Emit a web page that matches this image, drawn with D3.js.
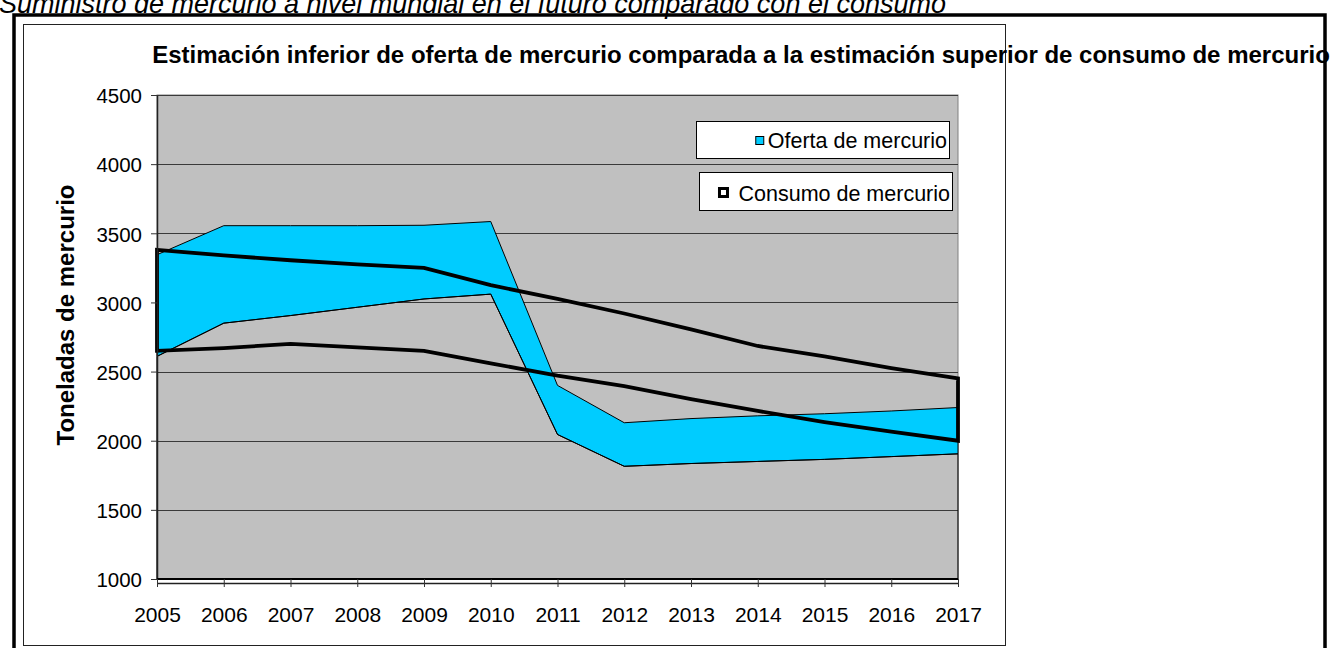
<!DOCTYPE html>
<html>
<head>
<meta charset="utf-8">
<script src="https://cdn.jsdelivr.net/npm/d3@7"></script>
<style>
  html, body { margin: 0; padding: 0; background: #fff; overflow: hidden; }
  svg { display: block; font-family: "Liberation Sans", Arial, sans-serif; }
</style>
</head>
<body>
<div id="chart"></div>
<script>
// Oferta vs consumo de mercurio, 2005-2017 (toneladas)
const years = ['2005', '2006', '2007', '2008', '2009', '2010', '2011', '2012', '2013', '2014', '2015', '2016', '2017'];
const supplyLow = [2610, 2850, 2905, 2965, 3025, 3060, 2045, 1815, 1835, 1850, 1865, 1885, 1905];
const supplyHigh = [3345, 3555, 3555, 3555, 3558, 3585, 2400, 2130, 2160, 2180, 2195, 2215, 2240];
const consumoHigh = [3380, 3340, 3305, 3275, 3250, 3125, 3025, 2920, 2805, 2685, 2610, 2525, 2450];
const consumoLow = [2650, 2670, 2700, 2675, 2650, 2560, 2470, 2395, 2300, 2215, 2135, 2065, 2000];
const yTicks = [1000, 1500, 2000, 2500, 3000, 3500, 4000, 4500];
const legendLabels = ['Oferta de mercurio', 'Consumo de mercurio'];

const width = 1333, height = 648;
const plot = { left: 157, right: 958, top: 95, bottom: 579 };

const svg = d3.select('#chart').append('svg')
  .attr('width', width)
  .attr('height', height);

// caption above the frame (its top is cut off in the original too)
svg.append('text')
  .attr('x', -1)
  .attr('y', 13)
  .attr('font-size', '27px')
  .attr('font-style', 'italic')
  .text('Suministro de mercurio a nivel mundial en el futuro comparado con el consumo');

// outer thick frame
svg.append('rect')
  .attr('x', 14).attr('y', 15)
  .attr('width', 1311).attr('height', 660)
  .attr('fill', 'none')
  .attr('stroke', '#000')
  .attr('stroke-width', 3.5);

// chart area frame
svg.append('rect')
  .attr('x', 23.5).attr('y', 24.5)
  .attr('width', 982).attr('height', 621)
  .attr('fill', '#fff')
  .attr('stroke', '#222')
  .attr('stroke-width', 1);

const x = d3.scalePoint().domain(years).range([plot.left, plot.right]);
const y = d3.scaleLinear().domain([1000, 4500]).range([plot.bottom, plot.top]);

// plot background
svg.append('rect')
  .attr('x', plot.left).attr('y', plot.top)
  .attr('width', plot.right - plot.left)
  .attr('height', plot.bottom - plot.top)
  .attr('fill', '#c0c0c0')
  .attr('stroke', '#808080')
  .attr('stroke-width', 1);

// gridlines
svg.append('g')
  .selectAll('line')
  .data(yTicks.slice(1))
  .join('line')
  .attr('x1', plot.left).attr('x2', plot.right)
  .attr('y1', d => Math.round(y(d)) + 0.5)
  .attr('y2', d => Math.round(y(d)) + 0.5)
  .attr('stroke', '#3a3a3a')
  .attr('stroke-width', 1);

const idx = d3.range(years.length);

// supply band
const supplyArea = d3.area()
  .x(i => x(years[i]))
  .y0(i => y(supplyLow[i]))
  .y1(i => y(supplyHigh[i]));

svg.append('path')
  .datum(idx)
  .attr('d', supplyArea)
  .attr('fill', '#00ccff')
  .attr('stroke', '#000')
  .attr('stroke-width', 1);

// base (transparent) stacked series below the band
const baseArea = d3.area()
  .x(i => x(years[i]))
  .y0(() => y(1000))
  .y1(i => y(supplyLow[i]));

svg.append('path')
  .datum(idx)
  .attr('d', baseArea)
  .attr('fill', 'none')
  .attr('stroke', '#000')
  .attr('stroke-width', 1);

// consumption range outline
const consumoArea = d3.area()
  .x(i => x(years[i]))
  .y0(i => y(consumoLow[i]))
  .y1(i => y(consumoHigh[i]));

svg.append('path')
  .datum(idx)
  .attr('d', consumoArea)
  .attr('fill', 'none')
  .attr('stroke', '#000')
  .attr('stroke-width', 3.8)
  .attr('stroke-linejoin', 'miter');

// y axis
const yAxis = svg.append('g')
  .attr('transform', `translate(${plot.left},0)`)
  .call(d3.axisLeft(y).tickValues(yTicks).tickFormat(d3.format('d'))
    .tickSize(6).tickPadding(9).tickSizeOuter(0));
yAxis.select('.domain').attr('stroke', '#222').attr('stroke-width', 1.5);
yAxis.selectAll('.tick line').attr('stroke', '#333');
yAxis.selectAll('.tick text')
  .attr('font-size', '20.5px')
  .attr('font-family', '"Liberation Sans", Arial, sans-serif')
  .attr('fill', '#000')
  .attr('dy', '0.38em');

// x axis (double baseline like the original)
svg.append('line')
  .attr('x1', plot.left).attr('x2', plot.right)
  .attr('y1', plot.bottom).attr('y2', plot.bottom)
  .attr('stroke', '#000').attr('stroke-width', 2);

const xAxis = svg.append('g')
  .attr('transform', `translate(0,${plot.bottom + 4})`)
  .call(d3.axisBottom(x).tickSize(4).tickPadding(20).tickSizeOuter(0));
xAxis.select('.domain').attr('stroke', '#222').attr('stroke-width', 1.5);
xAxis.selectAll('.tick line').attr('stroke', '#333').attr('y1', -4);
xAxis.selectAll('.tick text')
  .attr('font-size', '21px')
  .attr('font-family', '"Liberation Sans", Arial, sans-serif')
  .attr('fill', '#000');

// axis title
svg.append('text')
  .attr('transform', 'translate(74,315) rotate(-90)')
  .attr('text-anchor', 'middle')
  .attr('font-size', '24px')
  .attr('font-weight', 'bold')
  .text('Toneladas de mercurio');

// chart title
svg.append('text')
  .attr('x', 741)
  .attr('y', 63)
  .attr('text-anchor', 'middle')
  .attr('font-size', '24px')
  .attr('font-weight', 'bold')
  .text('Estimación inferior de oferta de mercurio comparada a la estimación superior de consumo de mercurio');

// legend: two separate boxes, text right-aligned inside each
const legendBoxes = [
  { x: 696, y: 121, w: 253, h: 37, ty: 148, gap: 4 },
  { x: 699, y: 172, w: 253, h: 38, ty: 201, gap: 11 }
];

legendBoxes.forEach((b, i) => {
  const g = svg.append('g');
  g.append('rect')
    .attr('x', b.x + 0.5).attr('y', b.y + 0.5)
    .attr('width', b.w).attr('height', b.h)
    .attr('fill', '#fff')
    .attr('stroke', '#000')
    .attr('stroke-width', 1);
  const label = g.append('text')
    .attr('x', b.x + b.w - 2)
    .attr('y', b.ty)
    .attr('text-anchor', 'end')
    .attr('font-size', '21.5px')
    .text(legendLabels[i]);
  const tx = b.x + b.w - 2 - label.node().getComputedTextLength();
  if (i === 0) {
    g.append('rect')
      .attr('x', tx - b.gap - 8).attr('y', b.ty - 11.5)
      .attr('width', 8).attr('height', 8)
      .attr('fill', '#00ccff')
      .attr('stroke', '#000')
      .attr('stroke-width', 1);
  } else {
    g.append('rect')
      .attr('x', tx - b.gap - 8).attr('y', b.ty - 12.5)
      .attr('width', 8).attr('height', 8)
      .attr('fill', '#fff')
      .attr('stroke', '#000')
      .attr('stroke-width', 3);
  }
});
</script>
</body>
</html>
